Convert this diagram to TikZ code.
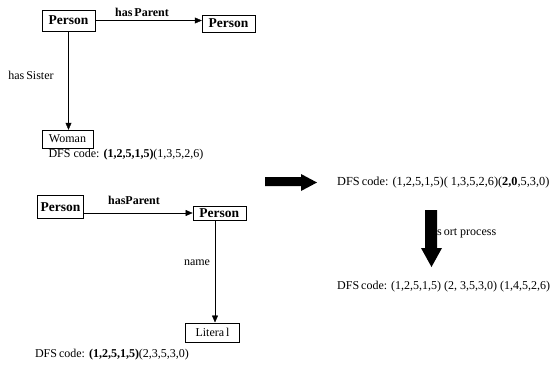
\documentclass[tikz,border=0pt]{standalone}
\usepackage{fontspec}
\setmainfont{Liberation Serif}
\usetikzlibrary{arrows.meta}

\begin{document}
\begin{tikzpicture}[x=1pt,y=-1pt,font=\fontsize{12}{14}\selectfont,
  concept/.style={draw,inner sep=0pt},
  cls/.style={font=\fontsize{13.5}{15}\selectfont\bfseries},
  rel/.style={-{Triangle[length=7pt,width=6pt]}}]
\useasboundingbox (0,0) rectangle (555,367);
\node[concept,cls,minimum width=53pt,minimum height=21pt] (p1) at (68.5,20.5) {Person};
\node[concept,cls,minimum width=53pt,minimum height=17pt] (p2) at (228.5,23.5) {Person};
\node[concept,minimum width=51pt,minimum height=18pt] (w) at (67.5,139) {Woman};
\draw[rel] (p1.east) -- (p1.east -| p2.west);
\node (hp1) at (142,12) {\textbf{has\,Parent}};
\draw[rel] (p1.south) -- (p1.south |- w.north);
\node (hs) at (31,75) {has\,Sister};
\node (dfs1) at (126,155) {DFS code: \textbf{(1,2,5,1,5)}(1,3,5,2,6)};
\node[concept,cls,minimum width=46pt,minimum height=23pt] (p3) at (60.5,206.7) {Person};
\node[concept,cls,minimum width=53pt,minimum height=14pt] (p4) at (219.3,213) {Person};
\node[concept,minimum width=54pt,minimum height=19pt] (lit) at (212.5,332.2) {Litera\,l};
\draw[rel] (p3.east |- p4.west) -- (p4.west);
\node (hp2) at (134,200) {\textbf{hasParent}};
\draw[rel] (p4.south -| 215,0) -- (lit.north -| 215,0);
\node (nm) at (197,263) {name};
\node (dfs2) at (112,355) {DFS\,code: \textbf{(1,2,5,1,5)}(2,3,5,3,0)};
\fill (265,177) -- (301,177) -- (301,174) -- (317,182.5) -- (301,191) -- (301,186) -- (265,186) -- cycle;
\node[anchor=west,inner sep=0pt,font=\fontsize{12.3}{14}\selectfont] (dfs3) at (337,183) {DFS\,code: (1,2,5,1,5)( 1,3,5,2,6)(\textbf{2,0},5,3,0)};
\fill (425,210) -- (437,210) -- (437,248) -- (442,248) -- (431.5,267) -- (421,248) -- (425,248) -- cycle;
\node[anchor=west,inner sep=0pt] (sp) at (437,233) {s\,ort process};
\node[anchor=west,inner sep=0pt] (dfs4) at (337,287) {DFS\,code: (1,2,5,1,5) (2, 3,5,3,0) (1,4,5,2,6)};
\end{tikzpicture}
\end{document}
